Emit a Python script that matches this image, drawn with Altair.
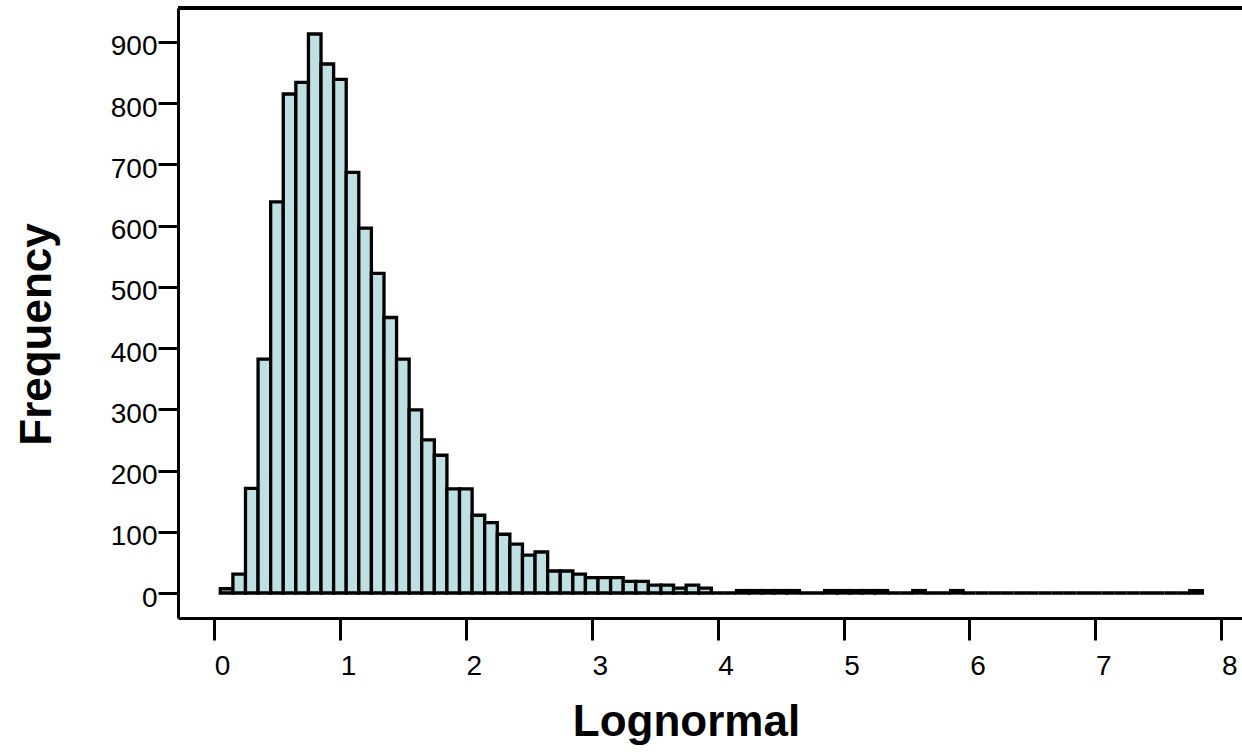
import altair as alt
import pandas as pd

# Histogram bins (centres, width 0.1) and frequencies
bin_centres = [round(0.1 * i, 1) for i in range(1, 79)]
counts = [
    7, 31, 171, 382, 639, 815, 834, 913, 864, 839,      # 0.1 - 1.0
    687, 596, 522, 450, 382, 299, 250, 225, 170, 170,   # 1.1 - 2.0
    127, 115, 96, 80, 62, 67, 36, 36, 31, 25,           # 2.1 - 3.0
    25, 25, 19, 19, 13, 13, 8, 13, 8, 0,                # 3.1 - 4.0
    0, 4, 4, 4, 4, 4, 0, 0, 4, 4,                       # 4.1 - 5.0
    4, 4, 4, 0, 0, 4, 0, 0, 4, 0,                       # 5.1 - 6.0
    0, 0, 0, 0, 0, 0, 0, 0, 0, 0,                       # 6.1 - 7.0
    0, 0, 0, 0, 0, 0, 0, 4,                             # 7.1 - 7.8
]
x_ticks = [0, 1, 2, 3, 4, 5, 6, 7, 8]
y_ticks = [0, 100, 200, 300, 400, 500, 600, 700, 800, 900]

df = pd.DataFrame({"centre": bin_centres, "count": counts})
df["start"] = df["centre"] - 0.05
df["end"] = df["centre"] + 0.05

W, H = 1064, 610
FONT = "Liberation Sans"

bars = alt.Chart(df).mark_rect(
    fill="#BEE0E3", stroke="black", strokeWidth=3.3
).encode(
    x=alt.X(
        "start:Q",
        scale=alt.Scale(domain=[-0.286, 8.165], nice=False, zero=False),
        axis=alt.Axis(
            values=x_ticks, title="Lognormal", grid=False,
            tickSize=22, tickWidth=3, tickColor="black",
            domainWidth=3, domainColor="black",
            labelFont=FONT, labelFontSize=28, labelColor="black",
            labelOffset=8, labelPadding=12,
            titleFont=FONT, titleFontSize=44, titleFontWeight="bold",
            titleColor="black", titleX=508, titleY=117,
            titleAlign="center", titleBaseline="alphabetic",
        ),
    ),
    x2="end:Q",
    y=alt.Y(
        "count:Q",
        scale=alt.Scale(domain=[-40.8, 955.5], nice=False, zero=False),
        axis=alt.Axis(
            values=y_ticks, title="Frequency", grid=False,
            tickSize=20, tickWidth=3, tickColor="black",
            domainWidth=3, domainColor="black",
            labelFont=FONT, labelFontSize=28, labelColor="black",
            labelOffset=5, labelPadding=1,
            titleFont=FONT, titleFontSize=44, titleFontWeight="bold",
            titleColor="black", titleAngle=270, titleX=-128, titleY=326,
            titleAlign="center", titleBaseline="alphabetic",
        ),
    ),
    y2=alt.Y2(datum=0),
)

top_border = alt.Chart(df).mark_rule(color="black", strokeWidth=3).encode(
    x=alt.value(0), x2=alt.value(W), y=alt.value(0)
)

chart = alt.layer(bars, top_border).properties(
    width=W, height=H,
    autosize=alt.AutoSizeParams(type="none"),
    padding={"left": 178, "top": 8, "right": 0, "bottom": 134},
    background="white",
).configure_view(strokeWidth=0)

chart.save("out.html", embed_options={"renderer": "svg", "actions": False})
